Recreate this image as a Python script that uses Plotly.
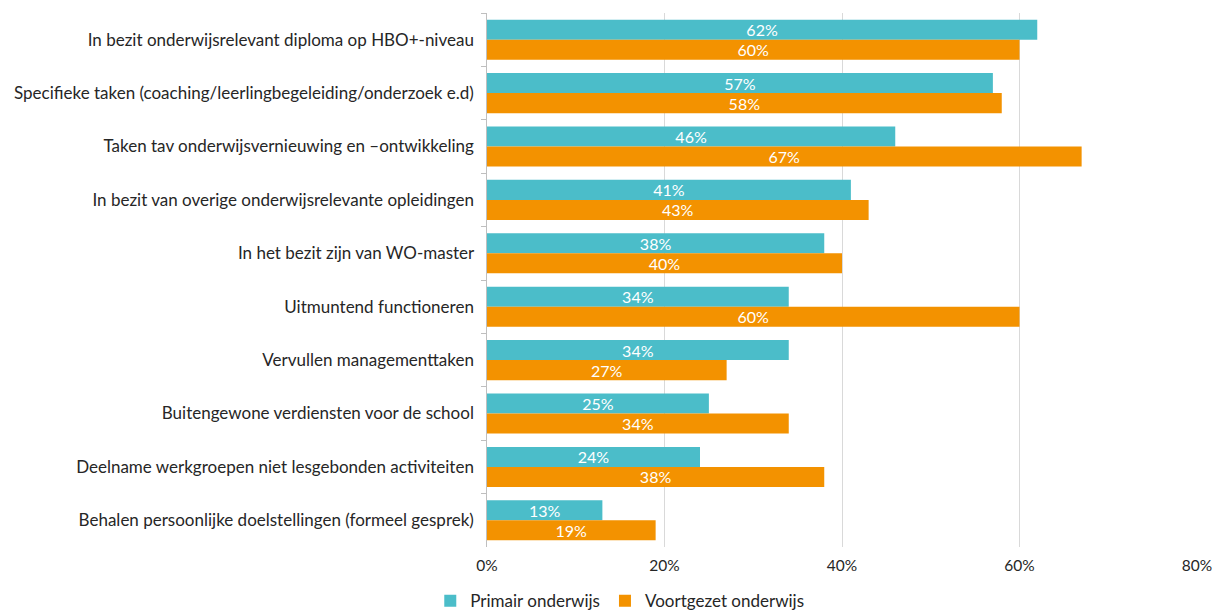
import plotly.graph_objects as go

categories = [
    "In bezit onderwijsrelevant diploma op HBO+-niveau",
    "Specifieke taken (coaching/leerlingbegeleiding/onderzoek e.d)",
    "Taken tav onderwijsvernieuwing en \u2013ontwikkeling",
    "In bezit van overige onderwijsrelevante opleidingen",
    "In het bezit zijn van WO-master",
    "Uitmuntend functioneren",
    "Vervullen managementtaken",
    "Buitengewone verdiensten voor de school",
    "Deelname werkgroepen niet lesgebonden activiteiten",
    "Behalen persoonlijke doelstellingen (formeel gesprek)",
]
primair = [62, 57, 46, 41, 38, 34, 34, 25, 24, 13]
voortgezet = [60, 58, 67, 43, 40, 60, 27, 34, 38, 19]
x_ticks = [0, 20, 40, 60, 80]

FONT = "Lato"
TEAL = "#4BBDC9"
ORANGE = "#F39200"
TEXT = "#262626"

fig = go.Figure()
for name, vals, color in [("Primair onderwijs", primair, TEAL),
                          ("Voortgezet onderwijs", voortgezet, ORANGE)]:
    fig.add_trace(go.Bar(
        y=categories, x=vals, name=name, orientation="h",
        marker=dict(color=color, line=dict(width=0)),
        text=[f"{v}%" for v in vals], textposition="inside",
        insidetextanchor="middle",
        textfont=dict(color="white", size=16, family=FONT),
        constraintext="none",
    ))

fig.update_layout(
    barmode="group", bargap=0.25, bargroupgap=0.0,
    width=1222, height=612,
    margin=dict(l=487, r=25, t=13, b=65, autoexpand=False),
    plot_bgcolor="white", paper_bgcolor="white",
    font=dict(family=FONT, size=17, color=TEXT),
    uniformtext=dict(mode=False),
    legend=dict(orientation="h", x=0.187, xanchor="center",
                yref="container", y=0.047, yanchor="top",
                font=dict(size=17, color=TEXT), traceorder="normal",
                itemwidth=30, tracegroupgap=0),
    xaxis=dict(range=[0, 80], tickvals=x_ticks, ticktext=[f"{t}%" for t in x_ticks],
               showgrid=True, gridcolor="#D9D9D9", gridwidth=1, zeroline=False,
               showline=False, ticks="", ticklabelstandoff=7, automargin=False,
               tickfont=dict(size=15.5, color=TEXT)),
    yaxis=dict(autorange="reversed", showline=True, linecolor="#BFBFBF", linewidth=1,
               ticks="outside", tickson="boundaries", ticklen=5, tickcolor="#BFBFBF",
               showgrid=False, automargin=False,
               tickfont=dict(size=17, color=TEXT), ticksuffix="  "),
)

fig.write_html("out.html")
